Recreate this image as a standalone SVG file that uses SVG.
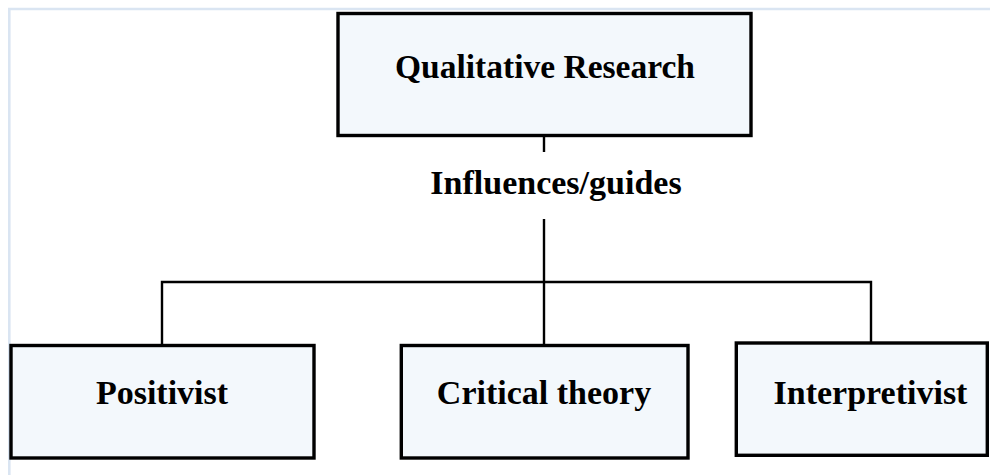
<svg xmlns="http://www.w3.org/2000/svg" width="990" height="475" viewBox="0 0 990 475">
  <style>
    .frame { fill: none; stroke: #dae5f2; stroke-width: 2.6; }
    .box { fill: #f3f8fc; stroke: #000; stroke-width: 3.4; }
    .link { fill: none; stroke: #000; stroke-width: 2.4; }
    .label { font-family: "Liberation Serif", "Times New Roman", serif; font-weight: bold; font-size: 34px; fill: #000; text-anchor: middle; }
  </style>
  <rect width="990" height="475" fill="#fff"/>
  <!-- page frame (top and left edges) -->
  <path class="frame" d="M9.3 475 V9 H990"/>

  <g id="connectors">
    <line class="link" x1="544" y1="136" x2="544" y2="152"/>
    <line class="link" x1="544" y1="219" x2="544" y2="345"/>
    <polyline class="link" points="162,344 162,282 871,282 871,342"/>
  </g>

  <g id="edge-label">
    <text class="label" x="556" y="194" font-size="33.5">Influences/guides</text>
  </g>

  <g id="qualitative-research">
    <rect class="box" x="338" y="13.5" width="413" height="122"/>
    <text class="label" x="545" y="77.5" font-size="35.5" textLength="300" lengthAdjust="spacingAndGlyphs">Qualitative Research</text>
  </g>

  <g id="positivist">
    <rect class="box" x="11" y="345.5" width="303" height="112.5"/>
    <text class="label" x="162" y="404">Positivist</text>
  </g>

  <g id="critical-theory">
    <rect class="box" x="401.3" y="345.5" width="286.7" height="112.5"/>
    <text class="label" x="544" y="404">Critical theory</text>
  </g>

  <g id="interpretivist">
    <rect class="box" x="736.3" y="343" width="251" height="112.3"/>
    <text class="label" x="870.5" y="404">Interpretivist</text>
  </g>
</svg>
